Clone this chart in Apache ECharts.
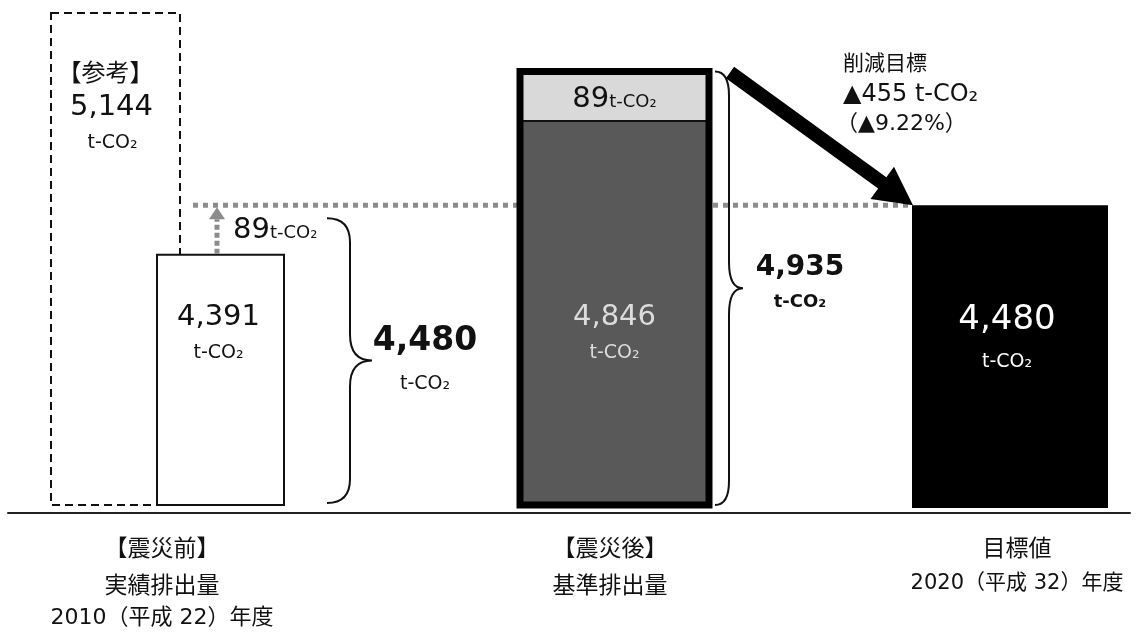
<!DOCTYPE html>
<html><head><meta charset="utf-8">
<script src="https://cdn.jsdelivr.net/npm/echarts@6/dist/echarts.min.js"></script>
<style>html,body{margin:0;padding:0;background:#fff}#c{width:1137px;height:633px}</style>
</head><body><div id="c"></div>
<script>
// ---------------- data ----------------
const categories = ['【震災前】', '【震災後】', '目標値'];
const categoryNames = ['実績排出量', '基準排出量', ''];
const fiscalYears = ['2010（平成 22）年度', '', '2020（平成 32）年度'];
const referenceLabel = '【参考】';
const referenceValue = 5144;   // 参考値
const actualValue = 4391;      // 震災前 実績
const adjustmentValue = 89;    // 調整分
const baselineValue = 4846;    // 震災後 基準 (本体)
const targetValue = 4480;      // 目標値
const reductionTitle = '削減目標';
const reductionPct = 9.22;
const unit = 't-CO₂';

const adjustedActual = actualValue + adjustmentValue;   // 4,480
const baselineTotal = baselineValue + adjustmentValue;  // 4,935

// ---------------- layout (x axis units = px) ----------------
const X_MIN = 8, X_MAX = 1130;
const Y_MIN = 3942, Y_MAX = 5144;
// the original figure is schematic: the y axis is broken (hidden) in two places
const yBreaks = [{ start: 4500, end: 4820, gap: 105 }, { start: 4950, end: 5130, gap: 76 }];
const xRef = [51, 180], xActual = [157, 284], xBase = [520, 709], xTarget = [912, 1108];
const labelCenters = [162, 610, 1017];
const guideRange = [193, 912];
const upArrowX = 217;
const fontNum = '"DejaVu Sans","Noto Sans CJK JP",sans-serif';
const fontJP = '"Noto Sans CJK JP","DejaVu Sans",sans-serif';
const fmt = v => v.toLocaleString('en-US');

function txt(x, y, text, opts) {
  return { type: 'text', x: x, y: y, z2: 20,
    style: Object.assign({ text: text, fill: '#111', align: 'center', verticalAlign: 'middle',
      fontFamily: fontNum, fontSize: 20 }, opts || {}) };
}
function rect(p0, p1, style) {
  return { type: 'rect', shape: { x: Math.min(p0[0], p1[0]), y: Math.min(p0[1], p1[1]),
    width: Math.abs(p1[0] - p0[0]), height: Math.abs(p1[1] - p0[1]) }, style: style };
}
function bracePath(x0, yT, yB, xv, xt) {
  const ym = (yT + yB) / 2, r = 24, r2 = 26;
  return 'M' + x0 + ',' + yT + ' Q' + xv + ',' + yT + ' ' + xv + ',' + (yT + r) +
    ' L' + xv + ',' + (ym - r2) + ' Q' + xv + ',' + ym + ' ' + xt + ',' + ym +
    ' Q' + xv + ',' + ym + ' ' + xv + ',' + (ym + r2) +
    ' L' + xv + ',' + (yB - r) + ' Q' + xv + ',' + yB + ' ' + x0 + ',' + yB;
}

const series = [
  // dotted guide at the target level
  { type: 'custom', z: 1, silent: true, clip: false,
    data: [[guideRange[0], guideRange[1], targetValue]],
    renderItem: (p, api) => {
      const a = api.coord([api.value(0), api.value(2)]), b = api.coord([api.value(1), api.value(2)]);
      return { type: 'line', shape: { x1: a[0], y1: a[1], x2: b[0], y2: b[1] },
        style: { stroke: '#8c8c8c', lineWidth: 5, lineDash: [5, 5] } };
    } },
  // reference (dashed) bar
  { type: 'custom', z: 2, silent: true, clip: false,
    data: [[xRef[0], xRef[1], Y_MIN, referenceValue]],
    renderItem: (p, api) => {
      const tl = api.coord([api.value(0), api.value(3)]), br = api.coord([api.value(1), api.value(2)]);
      const cx = (tl[0] + br[0]) / 2;
      return { type: 'group', children: [
        rect(tl, br, { fill: 'transparent', stroke: '#111', lineWidth: 2, lineDash: [8, 5] }),
        txt(cx - 10, tl[1] + 59, referenceLabel, { fontFamily: fontJP, fontSize: 24 }),
        txt(cx - 4, tl[1] + 94, fmt(api.value(3)), { fontSize: 29 }),
        txt(cx - 3, tl[1] + 130, unit, { fontSize: 19 })
      ] };
    } },
  // actual 2010 bar (white)
  { type: 'custom', z: 3, silent: true, clip: false,
    data: [[xActual[0], xActual[1], Y_MIN, actualValue]],
    renderItem: (p, api) => {
      const tl = api.coord([api.value(0), api.value(3)]), br = api.coord([api.value(1), api.value(2)]);
      const cx = (tl[0] + br[0]) / 2;
      return { type: 'group', children: [
        rect(tl, br, { fill: '#fff', stroke: '#111', lineWidth: 2 }),
        txt(cx - 2, br[1] - 188, fmt(api.value(3)), { fontSize: 29 }),
        txt(cx - 2, br[1] - 152, unit, { fontSize: 19 })
      ] };
    } },
  // up arrow +89 and its label
  { type: 'custom', z: 4, silent: true, clip: false,
    data: [[upArrowX, actualValue, adjustedActual]],
    renderItem: (p, api) => {
      const a = api.coord([api.value(0), api.value(1)]), b = api.coord([api.value(0), api.value(2)]);
      const tipY = b[1] + 2, headH = 12;
      return { type: 'group', children: [
        { type: 'line', shape: { x1: a[0], y1: a[1] - 1, x2: a[0], y2: tipY + headH },
          style: { stroke: '#8c8c8c', lineWidth: 5, lineDash: [5, 3] } },
        { type: 'polygon', shape: { points: [[a[0], tipY], [a[0] - 8, tipY + headH], [a[0] + 8, tipY + headH]] },
          style: { fill: '#8c8c8c' } },
        { type: 'text', x: a[0] + 16, y: (a[1] + b[1]) / 2, z2: 20, style: {
            text: '{n|' + (api.value(2) - api.value(1)) + '}{u|' + unit + '}',
            align: 'left', verticalAlign: 'middle',
            rich: { n: { fontFamily: fontNum, fontSize: 29, fill: '#111' },
                    u: { fontFamily: fontNum, fontSize: 18, fill: '#111', padding: [6, 0, 0, 0] } } } }
      ] };
    } },
  // brace for 4,480 (actual + adjustment)
  { type: 'custom', z: 4, silent: true, clip: false,
    data: [[327, Y_MIN, adjustedActual]],
    renderItem: (p, api) => {
      const t = api.coord([api.value(0), api.value(2)]), b = api.coord([api.value(0), api.value(1)]);
      const yT = t[1] + 13, yB = b[1] - 2, ym = (yT + yB) / 2, x0 = t[0];
      return { type: 'group', children: [
        { type: 'path', shape: { pathData: bracePath(x0, yT, yB, x0 + 23, x0 + 45) },
          style: { fill: null, stroke: '#111', lineWidth: 2 } },
        txt(x0 + 98, ym - 19, fmt(api.value(2)), { fontSize: 33, fontWeight: 'bold' }),
        txt(x0 + 98, ym + 23, unit, { fontSize: 19 })
      ] };
    } },
  // baseline bar (stacked 4,846 + 89)
  { type: 'custom', z: 5, silent: true, clip: false,
    data: [[xBase[0], xBase[1], Y_MIN, baselineValue, baselineTotal]],
    renderItem: (p, api) => {
      const x0 = api.value(0), x1 = api.value(1);
      const bl = api.coord([x0, api.value(2)]), m = api.coord([x1, api.value(3)]), tr = api.coord([x1, api.value(4)]);
      const cx = (bl[0] + tr[0]) / 2;
      return { type: 'group', children: [
        rect(bl, m, { fill: '#595959' }),
        rect([bl[0], m[1]], tr, { fill: '#d9d9d9' }),
        { type: 'line', shape: { x1: bl[0], y1: m[1], x2: tr[0], y2: m[1] }, style: { stroke: '#111', lineWidth: 2 } },
        rect(bl, tr, { fill: null, stroke: '#000', lineWidth: 7 }),
        { type: 'text', x: cx, y: (m[1] + tr[1]) / 2 + 3, z2: 20, style: {
            text: '{n|' + (api.value(4) - api.value(3)) + '}{u|' + unit + '}',
            align: 'center', verticalAlign: 'middle',
            rich: { n: { fontFamily: fontNum, fontSize: 29, fill: '#111' },
                    u: { fontFamily: fontNum, fontSize: 18, fill: '#111', padding: [6, 0, 0, 0] } } } },
        txt(cx, bl[1] - 188, fmt(api.value(3)), { fontSize: 29, fill: '#dcdcdc' }),
        txt(cx, bl[1] - 152, unit, { fontSize: 19, fill: '#dcdcdc' })
      ] };
    } },
  // brace for 4,935
  { type: 'custom', z: 4, silent: true, clip: false,
    data: [[715, Y_MIN, baselineTotal]],
    renderItem: (p, api) => {
      const t = api.coord([api.value(0), api.value(2)]), b = api.coord([api.value(0), api.value(1)]);
      const yT = t[1], yB = b[1], ym = (yT + yB) / 2, x0 = t[0];
      return { type: 'group', children: [
        { type: 'path', shape: { pathData: bracePath(x0, yT, yB, x0 + 14, x0 + 28) },
          style: { fill: null, stroke: '#111', lineWidth: 2 } },
        txt(x0 + 85, ym - 21, fmt(api.value(2)), { fontSize: 28, fontWeight: 'bold' }),
        txt(x0 + 85, ym + 14, unit, { fontSize: 18, fontWeight: 'bold' })
      ] };
    } },
  // target bar (black)
  { type: 'custom', z: 5, silent: true, clip: false,
    data: [[xTarget[0], xTarget[1], Y_MIN, targetValue]],
    renderItem: (p, api) => {
      const tl = api.coord([api.value(0), api.value(3)]), br = api.coord([api.value(1), api.value(2)]);
      const cx = (tl[0] + br[0]) / 2;
      return { type: 'group', children: [
        rect(tl, [br[0], br[1] + 3], { fill: '#000' }),
        txt(cx - 3, br[1] - 185, fmt(api.value(3)), { fontSize: 34, fill: '#fff' }),
        txt(cx - 3, br[1] - 143, unit, { fontSize: 19, fill: '#fff' })
      ] };
    } },
  // reduction arrow and note
  { type: 'custom', z: 6, silent: true, clip: false,
    data: [[730, baselineTotal, xTarget[0] + 1, targetValue]],
    renderItem: (p, api) => {
      const s = api.coord([api.value(0), api.value(1)]), e = api.coord([api.value(2), api.value(3)]);
      s[1] += 1;
      const dx = e[0] - s[0], dy = e[1] - s[1], L = Math.hypot(dx, dy);
      const ux = dx / L, uy = dy / L, nx = -uy, ny = ux;
      const headL = 38, headW = 20, w = 7;
      const bx = e[0] - ux * headL, by = e[1] - uy * headL;
      const note = api.value(1) - api.value(3);
      return { type: 'group', children: [
        { type: 'polygon', shape: { points: [
            [s[0] + nx * w, s[1] + ny * w], [bx + nx * w, by + ny * w], [bx + nx * headW, by + ny * headW],
            [e[0], e[1]], [bx - nx * headW, by - ny * headW], [bx - nx * w, by - ny * w], [s[0] - nx * w, s[1] - ny * w]] },
          style: { fill: '#000' } },
        txt(843, s[1] - 10, reductionTitle, { fontFamily: fontJP, fontSize: 21, align: 'left' }),
        txt(843, s[1] + 22, '▲' + note + ' ' + unit, { fontSize: 24, align: 'left' }),
        txt(836, s[1] + 52, '（▲' + reductionPct.toFixed(2) + '%）', { fontSize: 22, align: 'left' })
      ] };
    } },
  // category labels under the axis
  { type: 'custom', z: 6, silent: true, clip: false,
    data: labelCenters.map(x => [x, Y_MIN]),
    renderItem: (p, api) => {
      const i = p.dataIndex;
      const c = api.coord([api.value(0), api.value(1)]);
      const rows = [
        { t: categories[i], f: fontJP, s: 23 },
        { t: categoryNames[i], f: fontJP, s: 23 },
        { t: fiscalYears[i], f: fontNum, s: i === 0 ? 22 : 21 }
      ].filter(r => r.t);
      const ys = [42, 79, 113];
      return { type: 'group', children: rows.map((r, k) =>
        txt(c[0], c[1] + ys[k], r.t, { fontFamily: r.f, fontSize: r.s })) };
    } }
];

const chart = echarts.init(document.getElementById('c'), null, { renderer: 'canvas' });
chart.setOption({
  animation: false,
  backgroundColor: '#fff',
  grid: { left: X_MIN, right: 1137 - X_MAX, top: 13, bottom: 128 },
  xAxis: { type: 'value', min: X_MIN, max: X_MAX, offset: 8,
    axisLine: { show: true, lineStyle: { color: '#222', width: 2 } },
    axisTick: { show: false }, axisLabel: { show: false }, splitLine: { show: false } },
  yAxis: { type: 'value', min: Y_MIN, max: Y_MAX, show: false, splitLine: { show: false },
    breaks: yBreaks, breakArea: { show: false } },
  series: series
});
</script>
</body></html>
